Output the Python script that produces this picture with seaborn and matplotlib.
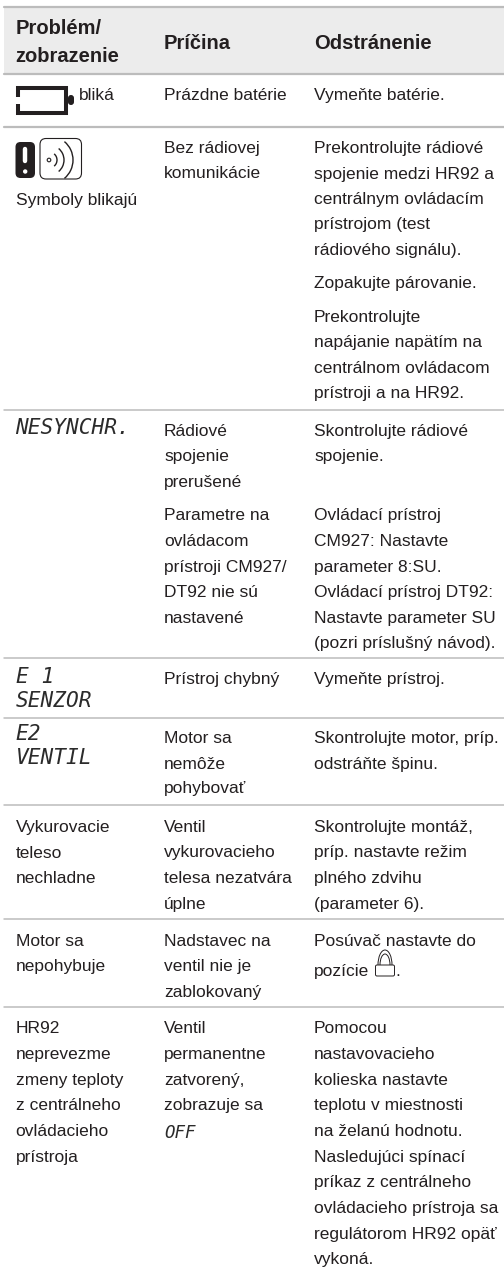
import matplotlib
matplotlib.use("Agg")
import matplotlib.pyplot as plt
from matplotlib.patches import FancyBboxPatch, Rectangle, Arc, Circle
import seaborn as sns

# ---- table content ----
HEADER_COL1 = ["Problém/", "zobrazenie"]
HEADER_COL2 = ["Príčina"]
HEADER_COL3 = ["Odstránenie"]

COL1_TEXT = ["bliká", "Symboly blikajú",
             "Vykurovacie", "teleso", "nechladne",
             "Motor sa", "nepohybuje",
             "HR92", "neprevezme", "zmeny teploty", "z centrálneho", "ovládacieho", "prístroja"]
COL1_BASE = [100, 205,
             831.7, 857.5, 883,
             945.7, 970.7,
             1033, 1059, 1085, 1110, 1136.5, 1161.7]

COL1_LCD = ["NESYNCHR.", "E 1", "SENZOR", "E2", "VENTIL"]
COL1_LCD_BASE = [434, 683, 706.7, 740, 764]

COL2_TEXT = ["Prázdne batérie",
             "Bez rádiovej", "komunikácie",
             "Rádiové", "spojenie", "prerušené",
             "Parametre na", "ovládacom", "prístroji CM927/", "DT92 nie sú", "nastavené",
             "Prístroj chybný",
             "Motor sa", "nemôže", "pohybovať",
             "Ventil", "vykurovacieho", "telesa nezatvára", "úplne",
             "Nadstavec na", "ventil nie je", "zablokovaný",
             "Ventil", "permanentne", "zatvorený,", "zobrazuje sa"]
COL2_BASE = [100, 153, 178.5, 436, 461, 487, 520, 546, 571.7, 596.7, 622.7, 684,
             743, 769, 793, 831.7, 857.5, 883, 909, 945.7, 970.7, 996.7,
             1033, 1059, 1085, 1110]
COL2_LCD = ["OFF"]
COL2_LCD_BASE = [1138]

COL3_TEXT = ["Vymeňte batérie.",
             "Prekontrolujte rádiové", "spojenie medzi HR92 a", "centrálnym ovládacím",
             "prístrojom (test", "rádiového signálu).",
             "Zopakujte párovanie.",
             "Prekontrolujte", "napájanie napätím na", "centrálnom ovládacom", "prístroji a na HR92.",
             "Skontrolujte rádiové", "spojenie.",
             "Ovládací prístroj", "CM927: Nastavte", "parameter 8:SU.", "Ovládací prístroj DT92:",
             "Nastavte parameter SU", "(pozri príslušný návod).",
             "Vymeňte prístroj.",
             "Skontrolujte motor, príp.", "odstráňte špinu.",
             "Skontrolujte montáž,", "príp. nastavte režim", "plného zdvihu", "(parameter 6).",
             "Posúvač nastavte do", "pozície",
             "Pomocou", "nastavovacieho", "kolieska nastavte", "teplotu v miestnosti",
             "na želanú hodnotu.", "Nasledujúci spínací", "príkaz z centrálneho",
             "ovládacieho prístroja sa", "regulátorom HR92 opäť", "vykoná."]
COL3_BASE = [100, 153, 178.5, 204, 229.5, 255, 288, 321.7, 347, 372.7, 398,
             436, 461, 520, 546, 571.7, 597, 622.7, 648, 684, 743, 769,
             831.7, 857.5, 883, 909, 945.7, 976,
             1033, 1059, 1085, 1110, 1136.5, 1161.7, 1187, 1213, 1239, 1264]

RULES = [6.5, 74, 127, 409.5, 658, 717.7, 805, 919, 1007]

# ---- style ----
W, H = 504, 1269
INK = "#231f20"
RULE = "#bcbcbc"
BODY = dict(family="Liberation Sans", fontsize=12.5, color=INK, va="baseline", ha="left")
HEAD = dict(family="Liberation Sans", fontsize=14.5, fontweight="bold", color=INK, va="baseline", ha="left")
LCD = dict(family="DejaVu Sans Mono", style="oblique", fontsize=15.2, color="#2b2b2b", va="baseline", ha="left")
X1, X2, X3 = 15.5, 164, 314

sns.set_theme(style="white")
plt.rcParams["font.family"] = ["Liberation Sans", "DejaVu Sans"]
fig = plt.figure(figsize=(W / 100, H / 100), dpi=100)
ax = fig.add_axes([0, 0, 1, 1])

# header band and separators
ax.add_patch(Rectangle((4, 7), W - 4, 66, facecolor="#ececec", edgecolor="none", zorder=0))
for x in (153, 303):
    sns.lineplot(x=[x, x], y=[7, 73], ax=ax, color="#c9c9c9", linewidth=1.5, errorbar=None, sort=False)
for y in RULES:
    lw = 1.6 if y < 130 else 1.1
    sns.lineplot(x=[4, W], y=[y, y], ax=ax, color=RULE, linewidth=lw, errorbar=None)

ax.set_xlim(0, W)
ax.set_ylim(H, 0)
ax.axis("off")

# header
for s, y in zip(HEADER_COL1, (34, 62.5)):
    ax.text(X1, y, s, **HEAD)
ax.text(X2, 49, HEADER_COL2[0], **HEAD)
ax.text(X3, 49, HEADER_COL3[0], **HEAD)

# body
for i, (s, y) in enumerate(zip(COL1_TEXT, COL1_BASE)):
    ax.text(79 if i == 0 else X1, y, s, **BODY)
for s, y in zip(COL2_TEXT, COL2_BASE):
    ax.text(X2, y, s, **BODY)
for s, y in zip(COL3_TEXT, COL3_BASE):
    ax.text(X3, y, s, **BODY)
for s, y in zip(COL1_LCD, COL1_LCD_BASE):
    ax.text(X1, y, s, **LCD)
for s, y in zip(COL2_LCD, COL2_LCD_BASE):
    ax.text(X2, y, s, **{**LCD, "fontsize": 12.5})

# battery icon
ax.plot([17.5, 17.5, 66, 66, 17.5, 17.5], [97, 88, 88, 113, 113, 104], color=INK, lw=2.9,
        solid_capstyle="butt", solid_joinstyle="miter")
ax.add_patch(FancyBboxPatch((68, 95), 6, 10, boxstyle="round,pad=0,rounding_size=3", fc=INK, ec="none"))

# warning icon
ax.add_patch(FancyBboxPatch((15.5, 142), 19.5, 36, boxstyle="round,pad=0,rounding_size=5", fc=INK, ec="none"))
ax.plot([25.2, 25.2], [149, 161], color="white", lw=3.2, solid_capstyle="round")
ax.add_patch(Circle((25.2, 171.5), 2.2, fc="white", ec="none"))

# radio icon
ax.add_patch(FancyBboxPatch((40, 138.5), 41.5, 40.5, boxstyle="round,pad=0,rounding_size=6", fc="none", ec=INK, lw=0.8))
ax.add_patch(Circle((49, 160), 1.8, fc="none", ec=INK, lw=0.8))
for r, a in ((8, 50), (15, 50), (24, 50)):
    ax.add_patch(Arc((49, 160), 2 * r, 2 * r, theta1=-a, theta2=a, ec=INK, lw=1.0))

# lock icon
ax.add_patch(FancyBboxPatch((375.5, 965), 19, 11, boxstyle="round,pad=0,rounding_size=1.5", fc="none", ec=INK, lw=0.7))
ax.add_patch(Arc((385, 965), 14, 30, theta1=180, theta2=360, ec=INK, lw=0.7))
ax.add_patch(Arc((385, 965), 10, 22, theta1=180, theta2=360, ec=INK, lw=0.7))
ax.text(395.5, 976, ".", **BODY)

fig.savefig("out.png", dpi=100)
